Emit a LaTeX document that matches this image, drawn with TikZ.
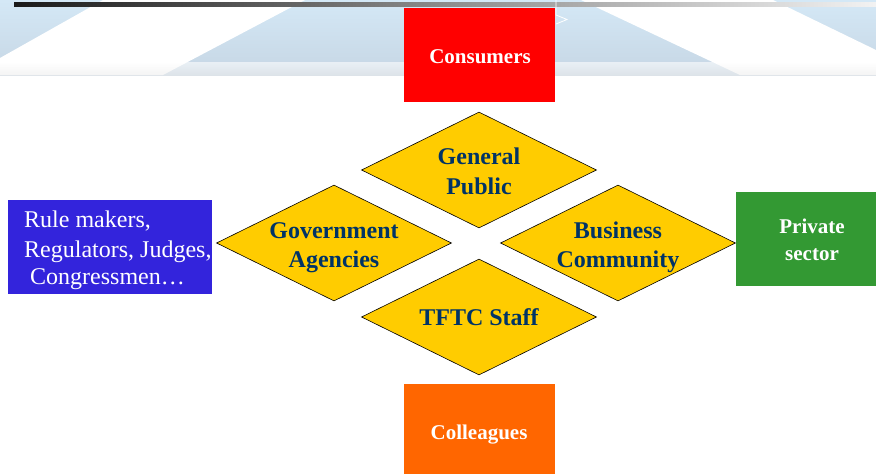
\documentclass[tikz,border=0pt]{standalone}
\usepackage{fontspec}
\setmainfont{Liberation Serif}
\usetikzlibrary{shapes.geometric}
\definecolor{skyblue}{RGB}{212,232,246}
\definecolor{skyblue2}{RGB}{198,214,228}
\definecolor{ruleblue}{RGB}{51,36,220}
\definecolor{privgreen}{RGB}{51,153,51}
\definecolor{collorange}{RGB}{255,102,0}
\definecolor{diamyellow}{RGB}{255,204,0}
\definecolor{diamtext}{RGB}{0,51,102}
\begin{document}
\begin{tikzpicture}[x=1pt,y=-1pt,
  diam/.style={diamond, draw=black, line width=0.6pt, fill=diamyellow, inner sep=0pt, minimum width=235pt, minimum height=116pt},
  dtext/.style={font=\fontsize{24}{28}\selectfont\bfseries, text=diamtext, anchor=base, inner sep=0pt},
  btext/.style={font=\fontsize{21}{25}\selectfont\bfseries, text=white, anchor=base, inner sep=0pt},
  rtext/.style={font=\fontsize{24}{28}\selectfont, text=white, anchor=base west, inner sep=0pt},
  boxnode/.style={draw=none, inner sep=0pt},
  ]
\useasboundingbox (0,0) rectangle (876,474);
\fill[white] (0,0) rectangle (876,474);
% sky banner
\shade[top color=skyblue, bottom color=skyblue2] (0,0) rectangle (876,75);
\fill[white] (0,58) -- (103,0) -- (305,0) -- (163,75) -- (0,75) -- cycle;
\fill[white] (581,0) -- (773,0) -- (876,50) -- (876,75) -- (740,75) -- cycle;
\shade[top color=white, bottom color=black!7, opacity=0.6] (0,62) rectangle (876,75);
\shade[left color=black!90, right color=black!5, middle color=black!45] (14,2) rectangle (876,6.5);
% boxes
\node[boxnode, fill=red, minimum width=151pt, minimum height=94pt] (cons) at (479.5,55) {};
\node[boxnode, fill=collorange, minimum width=151pt, minimum height=90pt] (coll) at (479.5,429) {};
\node[boxnode, fill=ruleblue, minimum width=204pt, minimum height=94pt] (rule) at (110,247) {};
\node[boxnode, fill=privgreen, minimum width=140pt, minimum height=94pt] (priv) at (806,239) {};
\draw[white, line width=0.8pt] (556,0) -- (556,15) -- (567,19.5) -- (556,24);
% diamonds
\node[diam] (gp) at (479,170) {};
\node[diam] (ga) at (334,243) {};
\node[diam] (bc) at (618,243) {};
\node[diam] (ts) at (479,317) {};
% texts
\node[btext] (consT) at (480,63) {Consumers};
\node[btext] (collT) at (479,439) {Colleagues};
\node[btext] (privT1) at (812,233) {Private};
\node[btext] (privT2) at (812,260) {sector};
\node[rtext] (ruleT1) at (24,227) {Rule makers,};
\node[rtext] (ruleT2) at (24,257) {Regulators, Judges,};
\node[rtext] (ruleT3) at (30,284) {Congressmen…};
\node[dtext] (gpT1) at (479,164) {General};
\node[dtext] (gpT2) at (479,194) {Public};
\node[dtext] (gaT1) at (334,238) {Government};
\node[dtext] (gaT2) at (334,267) {Agencies};
\node[dtext] (bcT1) at (618,238) {Business};
\node[dtext] (bcT2) at (618,267) {Community};
\node[dtext] (tsT) at (479,325) {TFTC Staff};
\end{tikzpicture}
\end{document}
